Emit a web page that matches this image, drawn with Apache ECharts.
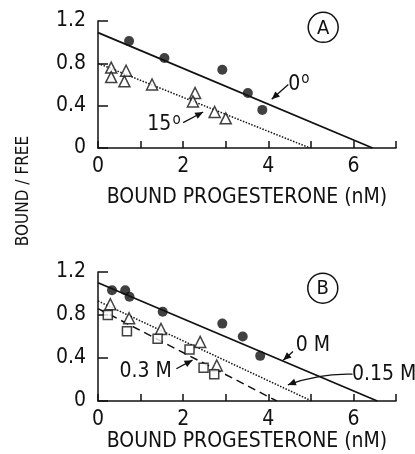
<!DOCTYPE html>
<html>
<head>
<meta charset="utf-8">
<script src="https://cdn.jsdelivr.net/npm/echarts@6/dist/echarts.min.js"></script>
<style>
  html, body { margin: 0; padding: 0; background: #fff; }
  #main { width: 415px; height: 454px; }
</style>
</head>
<body>
<div id="main"></div>
<script>
// panel A: temperature
var circlesA = [[0.73, 1.01], [1.56, 0.85], [2.92, 0.74], [3.52, 0.52], [3.86, 0.36]];
var trianglesA = [[0.31, 0.76], [0.31, 0.67], [0.66, 0.73], [0.62, 0.63], [1.27, 0.60],
                  [2.28, 0.52], [2.23, 0.44], [2.74, 0.34], [3.00, 0.28]];
var fitA0 = [[0, 1.09], [6.45, 0]];
var fitA15 = [[0, 0.80], [4.98, 0]];

// panel B: salt concentration
var circlesB = [[0.33, 1.03], [0.64, 1.03], [0.74, 0.97], [1.52, 0.83], [2.92, 0.72], [3.40, 0.60], [3.81, 0.42]];
var trianglesB = [[0.29, 0.90], [0.73, 0.77], [1.48, 0.67], [2.40, 0.55], [2.79, 0.33]];
var squaresB = [[0.23, 0.80], [0.68, 0.65], [1.40, 0.58], [2.15, 0.48], [2.48, 0.31], [2.73, 0.25]];
var fitB0 = [[0, 1.10], [6.56, 0]];
var fitB15 = [[0, 0.93], [5.02, 0]];
var fitB30 = [[0, 0.86], [4.2, 0]];

var yTicks = [0, 0.4, 0.8, 1.2];
var xLabels = ['0', '', '2', '', '4', '', '6', ''];
var FONT = '"DejaVu Sans Condensed", "Liberation Sans Narrow", "DejaVu Sans", sans-serif';

var chart = echarts.init(document.getElementById('main'));

function xAx(idx, gap) {
  return {
    gridIndex: idx, type: 'value', min: 0, max: 7, interval: 1,
    name: 'BOUND PROGESTERONE (nM)', nameLocation: 'middle', nameGap: gap,
    nameTextStyle: { fontFamily: FONT, fontSize: 21, color: '#111' },
    axisLine: { lineStyle: { color: '#111', width: 1.5 } },
    axisTick: { inside: true, length: 7, lineStyle: { color: '#111', width: 1.5 } },
    axisLabel: { margin: 8, fontFamily: FONT, fontSize: 21, color: '#111',
      formatter: function (v) { return xLabels[Math.round(v)]; } },
    splitLine: { show: false }
  };
}
function yAx(idx) {
  return {
    gridIndex: idx, type: 'value', min: 0, max: 1.2, interval: 0.4,
    axisLine: { lineStyle: { color: '#111', width: 1.5 } },
    axisTick: { inside: true, length: 10, lineStyle: { color: '#111', width: 1.5 } },
    axisLabel: { margin: 12, fontFamily: FONT, fontSize: 21, color: '#111',
      formatter: function (v) { return v === 0 ? '0' : v.toFixed(1); } },
    splitLine: { show: false }
  };
}
function fit(idx, data, type, w) {
  return { type: 'line', xAxisIndex: idx, yAxisIndex: idx, data: data, symbol: 'none',
    lineStyle: { color: '#111', width: w, type: type }, z: 2, silent: true };
}
function pts(idx, data, sym, size, filled) {
  return { type: 'scatter', xAxisIndex: idx, yAxisIndex: idx, data: data, symbol: sym, symbolSize: size,
    itemStyle: filled ? { color: '#111' } : { color: '#fff', borderColor: '#111', borderWidth: 1.5 }, z: 3 };
}

chart.setOption({
  animation: false,
  grid: [
    { left: 98, top: 21, width: 298, height: 127 },
    { left: 98, top: 272, width: 298, height: 129 }
  ],
  xAxis: [xAx(0, 39), xAx(1, 29)],
  yAxis: [yAx(0), yAx(1)],
  series: [
    fit(0, fitA0, 'solid', 1.8),
    fit(0, fitA15, 'dotted', 1.5),
    pts(0, circlesA, 'circle', 10, true),
    pts(0, trianglesA, 'triangle', 11, false),
    fit(1, fitB0, 'solid', 1.8),
    fit(1, fitB15, 'dotted', 1.5),
    fit(1, fitB30, [8, 5], 1.5),
    pts(1, circlesB, 'circle', 10, true),
    pts(1, trianglesB, 'triangle', 11, false),
    pts(1, squaresB, 'rect', 9, false)
  ]
});

// annotations, anchored in data coordinates of each panel
var notesA = [
  { text: '0', sup: 'o', at: [4.72, 0.60], arrow: [[4.47, 0.60], [4.08, 0.46]] },
  { text: '15', sup: 'o', at: [1.55, 0.22], arrow: [[2.00, 0.24], [2.47, 0.34]] }
];
var notesB = [
  { text: '0 M', at: [5.05, 0.52], arrow: [[4.58, 0.46], [4.35, 0.38]] },
  { text: '0.3 M', at: [1.12, 0.27], arrow: [[1.84, 0.30], [2.22, 0.38]] },
  { text: '0.15 M', at: [6.72, 0.25], arrow: [[5.98, 0.25], [5.2, 0.26], [4.46, 0.15]] }
];
var badges = [{ grid: 0, label: 'A', at: [5.29, 1.14] }, { grid: 1, label: 'B', at: [5.28, 1.05] }];

function px(g, p) { return chart.convertToPixel({ gridIndex: g }, p); }
var gfx = [];
function addNotes(g, list) {
  list.forEach(function (n) {
    var c = px(g, n.at);
    gfx.push({ type: 'text', x: c[0], y: c[1], z: 10,
      style: { text: n.sup ? '{m|' + n.text + '}{s|' + n.sup + '}' : n.text,
        font: '21px ' + FONT, fill: '#111', align: 'center', verticalAlign: 'middle',
        rich: { m: { fontFamily: FONT, fontSize: 21, fill: '#111' },
                s: { fontFamily: FONT, fontSize: 15, fill: '#111', verticalAlign: 'top', padding: [0, 0, 10, 1] } } } });
    var p = n.arrow.map(function (q) { return px(g, q); });
    if (p.length === 2) {
      gfx.push({ type: 'line', z: 10, shape: { x1: p[0][0], y1: p[0][1], x2: p[1][0], y2: p[1][1] },
        style: { stroke: '#111', lineWidth: 1.3 } });
    } else {
      gfx.push({ type: 'bezierCurve', z: 10,
        shape: { x1: p[0][0], y1: p[0][1], cpx1: p[1][0], cpy1: p[1][1], x2: p[2][0], y2: p[2][1] },
        style: { stroke: '#111', lineWidth: 1.3, fill: null } });
    }
    var a = p[p.length - 2], b = p[p.length - 1];
    var ang = Math.atan2(b[1] - a[1], b[0] - a[0]);
    var L = 8, W = 3.5;
    var bx = b[0] - L * Math.cos(ang), by = b[1] - L * Math.sin(ang);
    gfx.push({ type: 'polygon', z: 11, shape: { points: [
      b, [bx + W * Math.sin(ang), by - W * Math.cos(ang)], [bx - W * Math.sin(ang), by + W * Math.cos(ang)]] },
      style: { fill: '#111' } });
  });
}
addNotes(0, notesA);
addNotes(1, notesB);
badges.forEach(function (b) {
  var c = px(b.grid, b.at);
  gfx.push({ type: 'circle', z: 10, shape: { cx: c[0], cy: c[1], r: 15 }, style: { fill: 'none', stroke: '#111', lineWidth: 1.5 } });
  gfx.push({ type: 'text', z: 10, x: c[0], y: c[1] + 1, style: { text: b.label, font: '20px ' + FONT, fill: '#111', align: 'center', verticalAlign: 'middle' } });
});
gfx.push({ type: 'text', x: 24, y: 191, rotation: Math.PI / 2, z: 10,
  style: { text: 'BOUND / FREE', font: '17px ' + FONT, fill: '#111', align: 'center', verticalAlign: 'middle' } });

chart.setOption({ graphic: gfx });
</script>
</body>
</html>
